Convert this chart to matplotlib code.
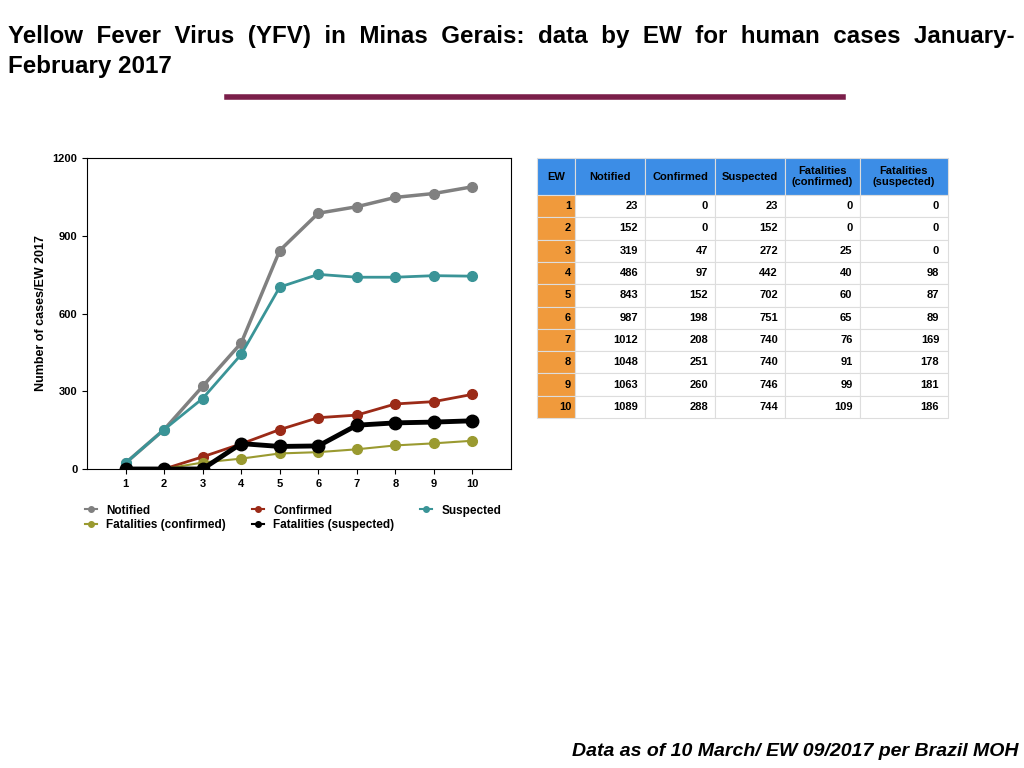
import matplotlib.pyplot as plt
from matplotlib.lines import Line2D

ew = [1, 2, 3, 4, 5, 6, 7, 8, 9, 10]
notified = [23, 152, 319, 486, 843, 987, 1012, 1048, 1063, 1089]
confirmed = [0, 0, 47, 97, 152, 198, 208, 251, 260, 288]
suspected = [23, 152, 272, 442, 702, 751, 740, 740, 746, 744]
fat_conf = [0, 0, 25, 40, 60, 65, 76, 91, 99, 109]
fat_susp = [0, 0, 0, 98, 87, 89, 169, 178, 181, 186]
headers = ["EW", "Notified", "Confirmed", "Suspected", "Fatalities\n(confirmed)", "Fatalities\n(suspected)"]

W, H = 1024, 768
fig = plt.figure(figsize=(10.24, 7.68), dpi=100)
plt.rcParams['font.family'] = ['Liberation Sans', 'DejaVu Sans']

fig.text(8 / W, 1 - 36 / H, "Yellow  Fever  Virus  (YFV)  in  Minas  Gerais:  data  by  EW  for  human  cases  January-",
         fontsize=17.4, fontweight='bold', va='center')
fig.text(8 / W, 1 - 66 / H, "February 2017", fontsize=17.4, fontweight='bold', va='center')
fig.add_artist(Line2D([227 / W, 843 / W], [1 - 97 / H] * 2, color='#7b1f4a', lw=4))
fig.text(1018 / W, 1 - 751 / H, "Data as of 10 March/ EW 09/2017 per Brazil MOH",
         fontsize=14, fontweight='bold', style='italic', ha='right', va='center')

ax = fig.add_axes([87 / W, 1 - 469 / H, (511 - 87) / W, (469 - 158) / H])
series = [
    (notified, 'Notified', '#808080', 2.5, 7),
    (confirmed, 'Confirmed', '#9b2a17', 2, 7),
    (suspected, 'Suspected', '#3a9497', 2, 7),
    (fat_conf, 'Fatalities (confirmed)', '#9a9a30', 1.5, 7),
    (fat_susp, 'Fatalities (suspected)', '#000000', 3.5, 9),
]
handles = {}
for vals, lab, c, lw, ms in series:
    ax.plot(ew, vals, '-o', color=c, lw=lw, ms=ms)
    handles[lab] = Line2D([], [], color=c, lw=1.5, marker='o', ms=4, label=lab)
ax.set_xlim(0, 11)
ax.set_ylim(0, 1200)
ax.set_xticks(ew)
ax.set_yticks([0, 300, 600, 900, 1200])
ax.tick_params(labelsize=8)
for t in ax.get_xticklabels() + ax.get_yticklabels():
    t.set_fontweight('bold')
ax.set_ylabel("Number of cases/EW 2017", fontsize=9, fontweight='bold')
order = ['Notified', 'Fatalities (confirmed)', 'Confirmed', 'Fatalities (suspected)', 'Suspected']
ax.legend(handles=[handles[k] for k in order], loc='upper left', bbox_to_anchor=(-0.03, -0.08),
          ncol=3, frameon=False, prop={'weight': 'bold', 'size': 8.5},
          handlelength=1.0, columnspacing=2.2, labelspacing=0.2)

tax = fig.add_axes([537 / W, 1 - 418 / H, (948 - 537) / W, (418 - 158) / H])
tax.axis('off')
rows = [[str(e), str(a), str(b), str(c), str(d), str(f)]
        for e, a, b, c, d, f in zip(ew, notified, confirmed, suspected, fat_conf, fat_susp)]
colw = [38, 70, 70, 70, 75, 88]
tot = sum(colw)
tab = tax.table(cellText=rows, colLabels=headers, bbox=[0, 0, 1, 1],
                colWidths=[w / tot for w in colw])
tab.auto_set_font_size(False)
for (r, c), cell in tab.get_celld().items():
    cell.set_edgecolor('#dddddd')
    cell.set_linewidth(0.8)
    cell.get_text().set_fontsize(8)
    cell.get_text().set_fontweight('bold')
    if r == 0:
        cell.set_facecolor('#3c8de6')
        cell.set_height(37 / 260)
        cell._loc = 'left'
        cell.PAD = 0.03
    else:
        cell.set_height(22.3 / 260)
        cell._loc = 'right'
        if c == 0:
            cell.set_facecolor('#f09a3c')
fig.savefig('out.png', dpi=100)
